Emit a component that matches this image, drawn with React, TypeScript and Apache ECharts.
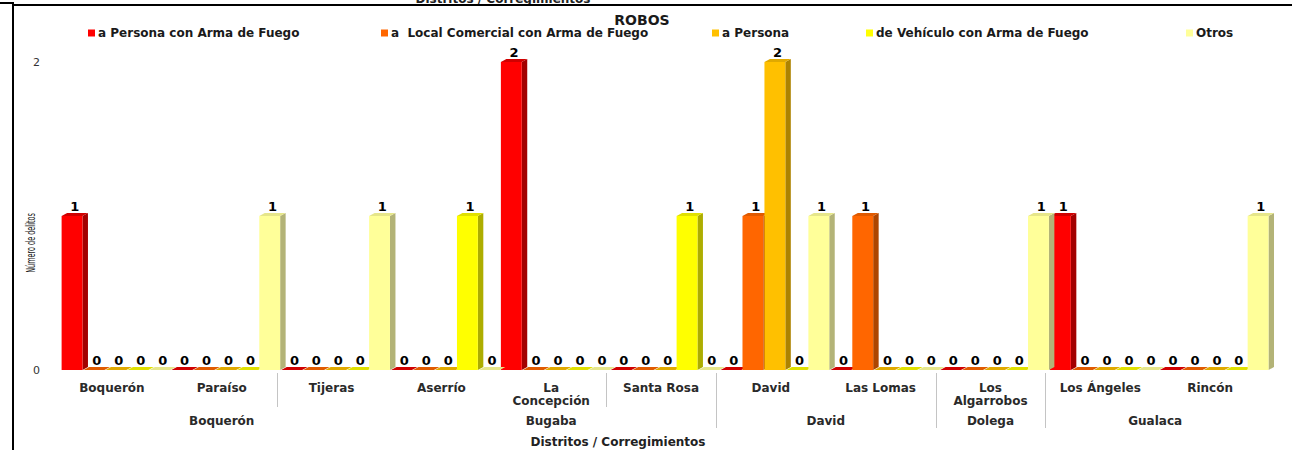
import React, { useEffect, useRef } from "react";
import * as echarts from "echarts";

// ---- data ----
const corregimientos = [
  "Boquerón", "Paraíso", "Tijeras", "Aserrío", "La Concepción", "Santa Rosa",
  "David", "Las Lomas", "Los Algarrobos", "Los Ángeles", "Rincón",
];
const wrappedNames = ["La Concepción", "Los Algarrobos"];
const distritos = ["Boquerón", "Bugaba", "David", "Dolega", "Gualaca"];
const distritoSizes = [3, 3, 2, 1, 2];
const seriesNames = [
  "a Persona con Arma de Fuego",
  "a  Local Comercial con Arma de Fuego",
  "a Persona",
  "de Vehículo con Arma de Fuego",
  "Otros",
];
const personaArmaFuego = [1, 0, 0, 0, 2, 0, 0, 0, 0, 1, 0];
const localComercialArmaFuego = [0, 0, 0, 0, 0, 0, 1, 1, 0, 0, 0];
const aPersona = [0, 0, 0, 0, 0, 0, 2, 0, 0, 0, 0];
const vehiculoArmaFuego = [0, 0, 0, 1, 0, 1, 0, 0, 0, 0, 0];
const otros = [0, 1, 1, 0, 0, 0, 1, 0, 1, 0, 1];
const seriesValues = [personaArmaFuego, localComercialArmaFuego, aPersona, vehiculoArmaFuego, otros];
const yTicks = [0, 2];
const shortSeparators = [2, 5];
const tallSeparators = [6, 8, 9];

// ---- styles ----
const palette = [
  { front: "#FF0000", side: "#A30000", top: "#D00000" },
  { front: "#FF6600", side: "#AD4500", top: "#E05A00" },
  { front: "#FFC000", side: "#AD8300", top: "#E0A900" },
  { front: "#FFFF00", side: "#ADAD00", top: "#E0E000" },
  { front: "#FFFF99", side: "#B3B377", top: "#E6E68A" },
];
const legendLeft = [88, 381, 712, 866, 1186];
const FONT = '"DejaVu Sans", "Open Sans", sans-serif';

const makeBarRender = (s: number) => (params: any, api: any) => {
  const cat = api.value(0);
  const val = api.value(1);
  const base = api.coord([cat, 0]);
  const top = api.coord([cat, val]);
  const band = api.size([1, 0])[0];
  const slot = band * 0.2;
  const x = base[0] - band / 2 + band * 0.042 + s * slot;
  const fw = slot * 0.95;
  const dx = slot * 0.25;
  const dy = 3;
  const yT = top[1];
  const yB = base[1];
  const c = palette[s];
  return {
    type: "group",
    children: [
      {
        type: "polygon",
        shape: { points: [[x + fw, yT], [x + fw + dx, yT - dy], [x + fw + dx, yB - dy], [x + fw, yB]] },
        style: { fill: c.side },
      },
      { type: "rect", shape: { x, y: yT, width: fw, height: yB - yT }, style: { fill: c.front } },
      {
        type: "polygon",
        shape: { points: [[x, yT], [x + dx, yT - dy], [x + fw + dx, yT - dy], [x + fw, yT]] },
        style: { fill: c.top },
      },
      {
        type: "text",
        x: x + (fw + dx) / 2,
        y: yT - dy,
        style: {
          text: String(val),
          font: `bold 13px ${FONT}`,
          fill: "#000",
          align: "center",
          verticalAlign: "bottom",
          textAlign: "center",
          textVerticalAlign: "bottom",
        },
      },
    ],
  };
};

const makeSepRender = (len: number) => (params: any, api: any) => {
  const p = api.coord([api.value(0), 0]);
  const band = api.size([1, 0])[0];
  const x = Math.round(p[0] - band / 2) + 0.5;
  return {
    type: "line",
    shape: { x1: x, y1: p[1] + 3, x2: x, y2: p[1] + len },
    style: { stroke: "#c4c4c4", lineWidth: 1 },
  };
};

export default function App() {
  const ref = useRef<HTMLDivElement>(null);
  useEffect(() => {
    if (!ref.current) return;
    const chart = echarts.init(ref.current, null, { renderer: "svg" });

    const centers: number[] = [];
    let acc = 0;
    distritoSizes.forEach((n) => {
      centers.push(acc + n / 2);
      acc += n;
    });

    const barSeries = seriesValues.map((vals, s) => ({
      type: "custom",
      name: seriesNames[s],
      xAxisIndex: 0,
      yAxisIndex: 0,
      itemStyle: { color: palette[s].front },
      encode: { x: 0, y: 1 },
      clip: false,
      silent: true,
      data: vals.map((v, i) => [i, v]),
      renderItem: makeBarRender(s),
    }));

    const sepSeries = [
      { list: shortSeparators, len: 37 },
      { list: tallSeparators, len: 58 },
    ].map((d) => ({
      type: "custom",
      xAxisIndex: 0,
      yAxisIndex: 0,
      encode: { x: 0, y: 1 },
      clip: false,
      silent: true,
      data: d.list.map((i) => [i, 0]),
      renderItem: makeSepRender(d.len),
    }));

    const option: any = {
      animation: false,
      backgroundColor: "#ffffff",
      title: {
        text: "ROBOS",
        left: 637,
        textAlign: "center",
        top: 8,
        textStyle: { fontFamily: FONT, fontWeight: "bold", fontSize: 14, color: "#1a1a1a" },
      },
      legend: seriesNames.map((n, i) => ({
        data: [n],
        left: legendLeft[i],
        top: 27,
        icon: "rect",
        itemWidth: 7,
        itemHeight: 7,
        selectedMode: false,
        padding: 0,
        textStyle: { fontFamily: FONT, fontWeight: "bold", fontSize: 12, color: "#1a1a1a", padding: [0, 0, 0, -2] },
      })),
      grid: { left: 57, right: 27, top: 62, bottom: 80 },
      xAxis: [
        {
          type: "category",
          data: corregimientos,
          boundaryGap: true,
          axisLine: { show: false },
          axisTick: { show: false },
          axisLabel: {
            interval: 0,
            margin: 11,
            fontFamily: FONT,
            fontWeight: "bold",
            fontSize: 12,
            lineHeight: 13,
            color: "#2a2a2a",
            formatter: (v: string) => (wrappedNames.includes(v) ? v.replace(" ", "\n") : v),
          },
          splitLine: { show: false },
        },
        {
          type: "value",
          min: 0,
          max: corregimientos.length,
          interval: 0.5,
          position: "bottom",
          axisLine: { show: false },
          axisTick: { show: false },
          splitLine: { show: false },
          axisLabel: {
            margin: 45,
            fontFamily: FONT,
            fontWeight: "bold",
            fontSize: 12,
            color: "#2a2a2a",
            showMinLabel: true,
            showMaxLabel: true,
            formatter: (v: number) => {
              const k = centers.findIndex((c) => Math.abs(c - v) < 1e-6);
              return k >= 0 ? distritos[k] : "";
            },
          },
        },
      ],
      yAxis: {
        type: "value",
        min: yTicks[0],
        max: yTicks[yTicks.length - 1],
        interval: yTicks[1] - yTicks[0],
        axisLine: { show: false },
        axisTick: { show: false },
        splitLine: { show: false },
        axisLabel: { margin: 17, fontFamily: FONT, fontSize: 11, color: "#333" },
      },
      graphic: [
        {
          type: "text",
          x: 503,
          y: -1,
          style: {
            text: "Distritos / Corregimientos",
            font: `bold 12px ${FONT}`,
            fill: "#222",
            align: "center",
            verticalAlign: "middle",
            textAlign: "center",
            textVerticalAlign: "middle",
          },
        },
        {
          type: "polyline",
          shape: { points: [[0, 3], [13, 3], [13, 450]] },
          style: { stroke: "#000", lineWidth: 2, fill: null },
        },
        {
          type: "line",
          shape: { x1: 13, y1: 5, x2: 1292, y2: 5 },
          style: { stroke: "#000", lineWidth: 2 },
        },
        {
          type: "text",
          x: 30,
          y: 243,
          rotation: Math.PI / 2,
          scaleX: 0.5,
          style: {
            text: "Número de delitos",
            font: `13px ${FONT}`,
            fill: "#222",
            align: "center",
            verticalAlign: "middle",
            textAlign: "center",
            textVerticalAlign: "middle",
          },
        },
        {
          type: "text",
          x: 618,
          y: 442,
          style: {
            text: "Distritos / Corregimientos",
            font: `bold 12px ${FONT}`,
            fill: "#222",
            align: "center",
            verticalAlign: "middle",
            textAlign: "center",
            textVerticalAlign: "middle",
          },
        },
      ],
      series: [...barSeries, ...sepSeries],
    };
    chart.setOption(option);
    return () => chart.dispose();
  }, []);
  return (
    <div
      ref={ref}
      style={{ position: "fixed", left: 0, top: 0, width: 1292, height: 450, background: "#fff" }}
    />
  );
}
